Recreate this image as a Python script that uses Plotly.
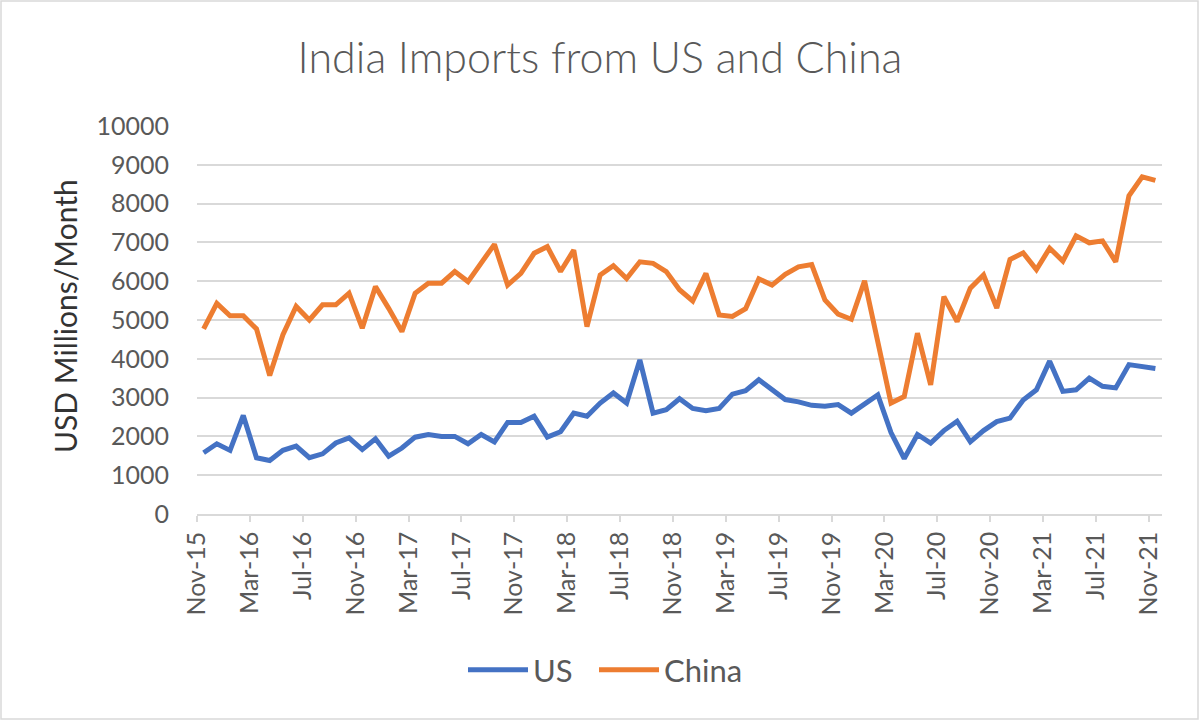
import plotly.graph_objects as go

months = []
names = ["Jan", "Feb", "Mar", "Apr", "May", "Jun", "Jul", "Aug", "Sep", "Oct", "Nov", "Dec"]
for k in range(73):
    m = (10 + k) % 12
    yr = 15 + (10 + k) // 12
    months.append(f"{names[m]}-{yr:02d}")

us = [1580, 1810, 1640, 2540, 1450, 1380, 1640, 1750, 1450, 1550, 1830, 1960,
      1660, 1940, 1490, 1700, 1980, 2050, 2000, 2000, 1810, 2050, 1860, 2360,
      2360, 2520, 1980, 2120, 2600, 2520, 2860, 3120, 2860, 3970, 2600, 2690,
      2970, 2720, 2660, 2720, 3090, 3180, 3460, 3200, 2950, 2890, 2800, 2780,
      2820, 2600, 2830, 3070, 2100, 1430, 2050, 1830, 2150, 2390, 1860, 2150,
      2380, 2470, 2940, 3200, 3940, 3160, 3200, 3500, 3290, 3250, 3850, 3810,
      3750]

china = [4770, 5430, 5110, 5110, 4770, 3570, 4620, 5350, 5000, 5390, 5390, 5690,
         4790, 5860, 5300, 4700, 5690, 5950, 5950, 6250, 5990, 6460, 6950, 5900,
         6200, 6720, 6890, 6250, 6800, 4830, 6160, 6400, 6070, 6500, 6460, 6250,
         5780, 5490, 6200, 5130, 5090, 5290, 6060, 5900, 6180, 6370, 6430, 5520,
         5150, 5020, 6010, 4440, 2860, 3030, 4660, 3330, 5600, 4960, 5820, 6160,
         5310, 6560, 6730, 6300, 6850, 6520, 7170, 6990, 7040, 6500, 8200, 8690,
         8600]

x_idx = list(range(len(months)))
tick_idx = list(range(0, len(months), 4))

FONT = "Lato"
GREY = "#595959"
PW, PH = 965, 388  # plot area size in px

fig = go.Figure()
fig.add_trace(go.Scatter(x=x_idx, y=us, mode="lines", name="US", legendwidth=56,
                         line=dict(color="#4472C4", width=5)))
fig.add_trace(go.Scatter(x=x_idx, y=china, mode="lines", name="China",
                         line=dict(color="#ED7D31", width=5)))

fig.update_layout(
    width=1200, height=721,
    paper_bgcolor="white", plot_bgcolor="white",
    margin=dict(l=197, r=38, t=126, b=207, autoexpand=False),
    title=dict(text="India Imports from US and China", x=0.5, xanchor="center",
               y=1 - 58 / 721, yanchor="middle",
               font=dict(family=FONT, size=43, color=GREY, weight=300)),
    font=dict(family=FONT, color=GREY),
    showlegend=True,
    legend=dict(orientation="h", x=(463 - 197) / PW, xanchor="left",
                y=(514 - 670) / PH, yanchor="middle",
                font=dict(family=FONT, size=31, color=GREY), itemwidth=60,
                bgcolor="rgba(0,0,0,0)"),
    shapes=[dict(type="rect", xref="paper", yref="paper",
                 x0=-196 / PW, x1=1001 / PW, y0=-205 / PH, y1=513 / PH,
                 line=dict(color="#d9d9d9", width=1.5), fillcolor="rgba(0,0,0,0)",
                 layer="below")],
    annotations=[dict(text="USD Millions/Month", xref="paper", yref="paper",
                      x=(65 - 197) / PW, y=(514 - 316) / PH, textangle=-90,
                      xanchor="center", yanchor="middle", showarrow=False,
                      font=dict(family=FONT, size=30, color="#333333"))],
)

fig.update_xaxes(
    range=[-0.5, len(months) - 0.5],
    tickmode="array",
    tickvals=[i - 0.5 for i in tick_idx],
    ticktext=[months[i] for i in tick_idx],
    tickangle=-90,
    tickfont=dict(family=FONT, size=25, color=GREY),
    showgrid=False, zeroline=False, automargin=False,
    showline=True, linecolor="#d9d9d9", linewidth=1.5,
    ticks="outside", ticklen=6, tickcolor="#d9d9d9", tickwidth=1.5,
)

fig.update_yaxes(
    range=[0, 10000], dtick=1000, tick0=0, tickformat="d",
    tickfont=dict(family=FONT, size=25, color=GREY),
    showgrid=True, gridcolor="#d9d9d9", gridwidth=1.5,
    zeroline=False, showline=False, automargin=False,
    ticks="", ticklabelstandoff=27,
)

fig.write_html("out.html", config={"displayModeBar": False},
               post_script="document.body.style.margin='0';")
